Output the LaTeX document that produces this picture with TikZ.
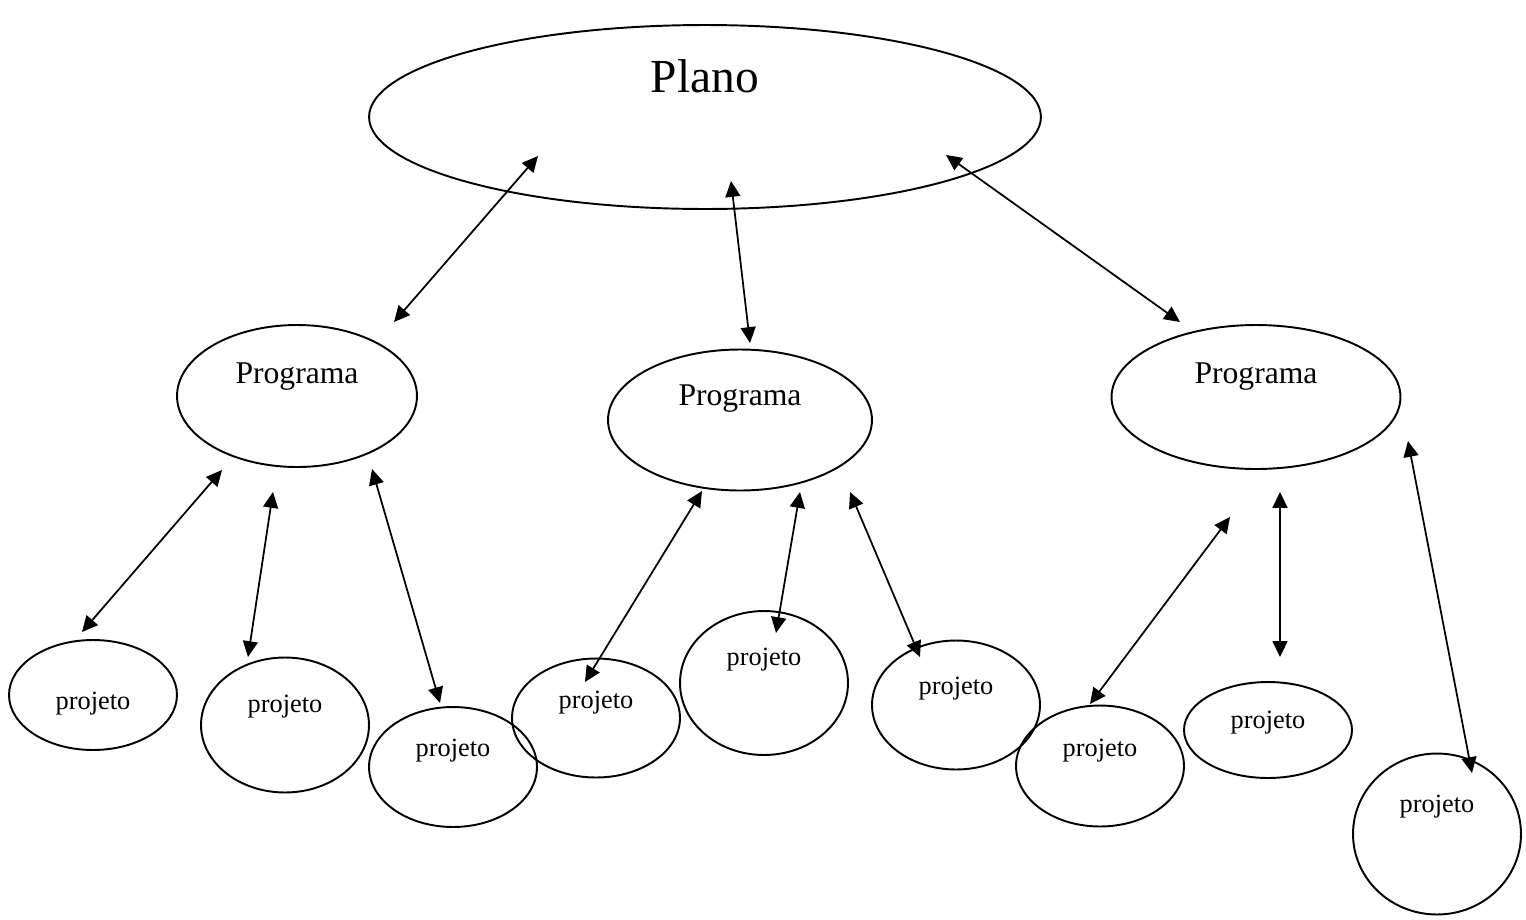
\documentclass[tikz,border=0pt]{standalone}
\usepackage{fontspec}
\setmainfont{Liberation Serif}
\usetikzlibrary{shapes.geometric, arrows.meta, positioning, calc}

\tikzset{
    elip/.style={draw, ellipse, line width=1.1pt, inner sep=0pt},
    projbox/.style={elip, minimum width=3.36cm},
    link/.style={<->, line width=1pt},
    bigtxt/.style={anchor=base, font=\fontsize{27}{30}\selectfont},
    progtxt/.style={anchor=base, font=\fontsize{18}{21}\selectfont},
    projtxt/.style={anchor=base, font=\fontsize{15}{18}\selectfont}
}

\begin{document}
\begin{tikzpicture}[x=0.02cm, y=-0.02cm, >={Triangle[length=9pt, width=8.5pt]}]
    \useasboundingbox (0,0) rectangle (1526,920);

    % Plano
    \node[elip, minimum width=13.44cm, minimum height=3.68cm] (plano) at (705,117) {};
    \node[bigtxt] (planotxt) at (705,92) {Plano};

    % Programas
    \node[elip, minimum width=4.8cm, minimum height=2.84cm] (prog1) at (297,396) {};
    \node[progtxt] (prog1txt) at (297,383) {Programa};
    \node[elip, minimum width=5.28cm, minimum height=2.82cm] (prog2) at (740,420) {};
    \node[progtxt] (prog2txt) at (740,405) {Programa};
    \node[elip, minimum width=5.78cm, minimum height=2.88cm] (prog3) at (1256,397) {};
    \node[progtxt] (prog3txt) at (1256,383) {Programa};

    % Projetos
    \node[projbox, minimum height=2.2cm] (proj1) at (93,695) {};
    \node[projtxt] (proj1txt) at (93,709) {projeto};
    \node[projbox, minimum height=2.7cm] (proj2) at (285,725) {};
    \node[projtxt] (proj2txt) at (285,712) {projeto};
    \node[projbox, minimum height=2.4cm] (proj3) at (453,767) {};
    \node[projtxt] (proj3txt) at (453,756) {projeto};
    \node[projbox, minimum height=2.38cm] (proj4) at (596,718) {};
    \node[projtxt] (proj4txt) at (596,708) {projeto};
    \node[projbox, minimum height=2.88cm] (proj5) at (764,683) {};
    \node[projtxt] (proj5txt) at (764,665) {projeto};
    \node[projbox, minimum height=2.58cm] (proj6) at (956,705) {};
    \node[projtxt] (proj6txt) at (956,694) {projeto};
    \node[projbox, minimum height=2.42cm] (proj7) at (1100,766) {};
    \node[projtxt] (proj7txt) at (1100,756) {projeto};
    \node[projbox, minimum height=1.92cm] (proj8) at (1268,730) {};
    \node[projtxt] (proj8txt) at (1268,728) {projeto};
    \node[projbox, minimum height=3.22cm] (proj9) at (1437,834) {};
    \node[projtxt] (proj9txt) at (1437,812) {projeto};

    % Arrow ends
    \coordinate (pl1) at (538,156);  \coordinate (pg1) at (394,322);
    \coordinate (pl2) at (731,181);  \coordinate (pg2) at (750,343);
    \coordinate (pl3) at (946,155);  \coordinate (pg3) at (1180,322);
    \coordinate (a1) at (222,470);   \coordinate (b1) at (82,632);
    \coordinate (a2) at (273,492);   \coordinate (b2) at (248,657);
    \coordinate (a3) at (372,469);   \coordinate (b3) at (440,703);
    \coordinate (a4) at (702,491);   \coordinate (b4) at (585,682);
    \coordinate (a5) at (800,492);   \coordinate (b5) at (776,633);
    \coordinate (a6) at (850,492);   \coordinate (b6) at (920,657);
    \coordinate (a7) at (1230,517);  \coordinate (b7) at (1090,704);
    \coordinate (a8) at (1280,492);  \coordinate (b8) at (1280,657);
    \coordinate (a9) at (1408,441);  \coordinate (b9) at (1472,773);

    % Links
    \draw[link] (pl1) -- (pg1);
    \draw[link] (pl2) -- (pg2);
    \draw[link] (pl3) -- (pg3);
    \draw[link] (a1) -- (b1);
    \draw[link] (a2) -- (b2);
    \draw[link] (a3) -- (b3);
    \draw[link] (a4) -- (b4);
    \draw[link] (a5) -- (b5);
    \draw[link] (a6) -- (b6);
    \draw[link] (a7) -- (b7);
    \draw[link] (a8) -- (b8);
    \draw[link] (a9) -- (b9);
\end{tikzpicture}
\end{document}
